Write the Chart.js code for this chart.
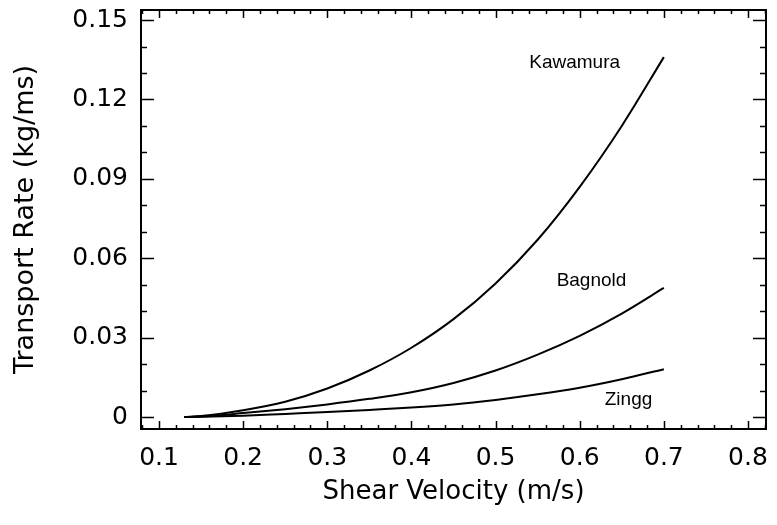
<!DOCTYPE html>
<html>
<head>
<meta charset="utf-8">
<script src="https://cdn.jsdelivr.net/npm/chart.js@4/dist/chart.umd.min.js"></script>
<style>
  html, body { margin: 0; padding: 0; background: #fff; }
  #wrap { width: 777px; height: 525px; }
</style>
</head>
<body>
<div id="wrap"><canvas id="c" width="777" height="525"></canvas></div>
<script>
// ---- data ----
const shearVelocity = [0.13, 0.15, 0.2, 0.25, 0.3, 0.35, 0.4, 0.45, 0.5, 0.55, 0.6, 0.65, 0.7];
const kawamura = [0, 0.0004, 0.0026, 0.0058, 0.0108, 0.0176, 0.0262, 0.037, 0.0505, 0.067, 0.087, 0.110, 0.136];
const bagnold  = [0, 0.0002, 0.0015, 0.003, 0.0048, 0.0069, 0.0094, 0.0129, 0.0176, 0.0236, 0.0307, 0.0391, 0.0488];
const zingg    = [0, 0.0001, 0.0005, 0.0012, 0.0019, 0.0027, 0.0036, 0.0048, 0.0065, 0.0086, 0.0111, 0.0143, 0.0181];
const seriesNames = ['Kawamura', 'Bagnold', 'Zingg'];
const labelAnchors = [[0.594, 0.1319], [0.614, 0.0495], [0.658, 0.0046]];

const xTicks = [0.1, 0.2, 0.3, 0.4, 0.5, 0.6, 0.7, 0.8];
const yTicks = [0, 0.03, 0.06, 0.09, 0.12, 0.15];
const xMinorStep = 0.02;
const yMinorStep = 0.01;
const xRange = [0.0786, 0.8214];
const yRange = [-0.0045, 0.1538];

const FONT = 'DejaVu Sans';
const LABEL_FONT = 'Liberation Sans';

function pts(ys) { return shearVelocity.map((x, i) => ({x: x, y: ys[i]})); }

const lineStyle = {
  showLine: true, pointRadius: 0, borderColor: '#000', borderWidth: 2,
  cubicInterpolationMode: 'monotone', fill: false
};

const framePlugin = {
  id: 'frame',
  afterDatasetsDraw(chart) {
    const ctx = chart.ctx;
    const a = chart.chartArea;
    const xs = chart.scales.x, ys = chart.scales.y;
    ctx.save();
    ctx.strokeStyle = '#000';
    ctx.lineWidth = 2;
    ctx.strokeRect(a.left, a.top, a.right - a.left, a.bottom - a.top);
    ctx.lineWidth = 1.5;
    ctx.beginPath();
    const nx = Math.round((xRange[1] - xRange[0]) / xMinorStep) + 2;
    for (let i = 0; i < nx; i++) {
      const v = Math.round((0.08 + i * xMinorStep) * 1000) / 1000;
      if (v <= xRange[0] || v >= xRange[1]) continue;
      const major = xTicks.some(t => Math.abs(t - v) < 1e-6);
      const len = major ? 8 : 4;
      const px = Math.round(xs.getPixelForValue(v)) + 0.5;
      ctx.moveTo(px, a.bottom); ctx.lineTo(px, a.bottom - len);
      ctx.moveTo(px, a.top); ctx.lineTo(px, a.top + len);
    }
    for (let i = 0; i <= 15; i++) {
      const v = Math.round(i * yMinorStep * 1000) / 1000;
      const major = yTicks.some(t => Math.abs(t - v) < 1e-6);
      const len = major ? 13 : 6;
      const py = Math.round(ys.getPixelForValue(v)) + 0.5;
      ctx.moveTo(a.left, py); ctx.lineTo(a.left + len, py);
      ctx.moveTo(a.right, py); ctx.lineTo(a.right - len, py);
    }
    ctx.stroke();
    ctx.fillStyle = '#000';
    ctx.font = '19px "' + LABEL_FONT + '"';
    ctx.textAlign = 'center';
    ctx.textBaseline = 'alphabetic';
    seriesNames.forEach((n, i) => {
      ctx.fillText(n, xs.getPixelForValue(labelAnchors[i][0]), ys.getPixelForValue(labelAnchors[i][1]));
    });
    ctx.restore();
  }
};

new Chart(document.getElementById('c'), {
  type: 'scatter',
  data: {
    datasets: [
      Object.assign({label: seriesNames[0], data: pts(kawamura)}, lineStyle),
      Object.assign({label: seriesNames[1], data: pts(bagnold)}, lineStyle),
      Object.assign({label: seriesNames[2], data: pts(zingg)}, lineStyle)
    ]
  },
  options: {
    responsive: false,
    animation: false,
    events: [],
    layout: { padding: { top: 10, right: 11, left: 0, bottom: 0 } },
    plugins: { legend: { display: false }, tooltip: { enabled: false } },
    scales: {
      x: {
        type: 'linear', min: xRange[0], max: xRange[1],
        afterFit(s) { s.height = 96; s.paddingLeft = 0; s.paddingRight = 0; },
        afterBuildTicks(s) { s.ticks = xTicks.map(v => ({value: v})); },
        grid: { display: false, drawTicks: false },
        border: { display: false },
        ticks: { color: '#000', font: { family: FONT, size: 25 }, padding: 14, maxRotation: 0,
                 callback: v => String(v) },
        title: { display: true, text: 'Shear Velocity (m/s)', color: '#000',
                 font: { family: FONT, size: 26 }, padding: { top: 0, bottom: 17 } }
      },
      y: {
        type: 'linear', min: yRange[0], max: yRange[1],
        afterFit(s) { s.width = 141; s.paddingTop = 0; s.paddingBottom = 0; },
        afterBuildTicks(s) { s.ticks = yTicks.map(v => ({value: v})); },
        grid: { display: false, drawTicks: false },
        border: { display: false },
        ticks: { color: '#000', font: { family: FONT, size: 25 }, padding: 13,
                 callback: v => String(v) },
        title: { display: true, text: 'Transport Rate (kg/ms)', color: '#000',
                 font: { family: FONT, size: 27 }, padding: { top: 10, bottom: 0 } }
      }
    }
  },
  plugins: [framePlugin]
});
</script>
</body>
</html>
